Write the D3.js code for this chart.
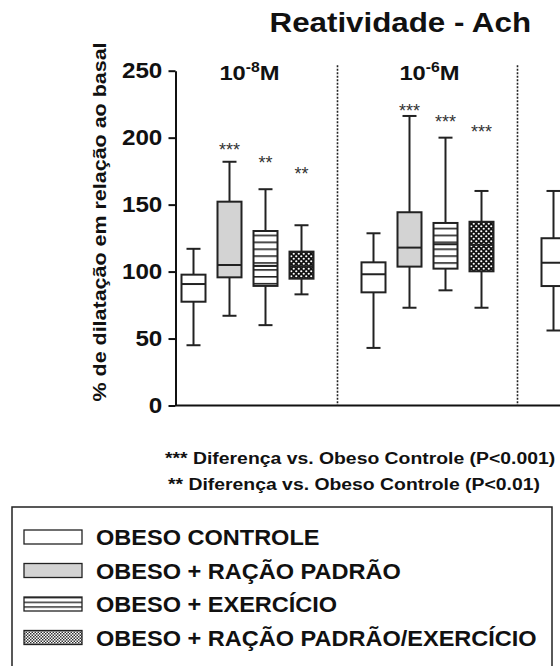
<!DOCTYPE html>
<meta charset="utf-8">
<script src="https://d3js.org/d3.v7.min.js"></script>
<style>
  body { margin: 0; background: #fff; }
  text { font-family: Arial, "Liberation Sans", sans-serif; fill: #111; }
  .tick text { font-size: 22px; font-weight: bold; }
</style>
<div id="chart"></div>
<script>
// concentrations (exponent of 10); the third panel is cut off at the right edge
var panelLabels = ["-8", "-6"];
var groups = ["OBESO CONTROLE", "OBESO + RAÇÃO PADRÃO", "OBESO + EXERCÍCIO", "OBESO + RAÇÃO PADRÃO/EXERCÍCIO"];
var fills = ["white", "gray", "stripe", "check"];

// box plot values per panel (only the first box of panel 3 shows)
var whiskerLow  = [[45, 67, 60, 83],          [43, 73, 86, 73],            [56]];
var q1          = [[77.5, 95.7, 89.3, 94.7],  [84.5, 103.7, 102.2, 100.2], [89.2]];
var median      = [[90.7, 104.9, 104.2, 104], [98, 117.9, 120.4, 120],     [106.6]];
var q3          = [[97.7, 152.2, 130.3, 114.9],[106.9, 144.3, 136.3, 137.2],[124.9]];
var whiskerHigh = [[117, 182, 161.5, 134.6],  [128.6, 216.2, 200, 160.2],  [160.2]];
var stars       = [["", "***", "**", "**"],   ["", "***", "***", "***"],   [""]];
var starPos     = [[0, 194, 184, 175.5],      [0, 223, 215, 207.5],        [0]];

var yTicks = [0, 50, 100, 150, 200, 250];
var notes = ["*** Diferença vs. Obeso Controle (P<0.001)", "** Diferença vs. Obeso Controle (P<0.01)"];

var W = 560, H = 666;
var svg = d3.select("#chart").append("svg").attr("width", W).attr("height", H);

// the original figure is a bit stretched sideways, so text gets a horizontal scale
function label(x, y, str, size, sx, anchor, rot) {
  return svg.append("text")
    .attr("transform", "translate(" + x + "," + y + ")" + (rot ? " rotate(" + rot + ")" : "") + " scale(" + sx + ",1)")
    .attr("text-anchor", anchor || "start")
    .style("font-size", size + "px").style("font-weight", "bold")
    .text(str);
}

var defs = svg.append("defs");
var st = defs.append("pattern").attr("id", "stripe").attr("patternUnits", "userSpaceOnUse")
  .attr("width", 10).attr("height", 6.9);
st.append("rect").attr("width", 10).attr("height", 6.9).attr("fill", "white");
st.append("rect").attr("y", 0).attr("width", 10).attr("height", 1.6).attr("fill", "#222");

var st2 = defs.append("pattern").attr("id", "stripeSmall").attr("patternUnits", "userSpaceOnUse")
  .attr("width", 10).attr("height", 4.7);
st2.append("rect").attr("width", 10).attr("height", 4.7).attr("fill", "white");
st2.append("rect").attr("y", 0).attr("width", 10).attr("height", 1.4).attr("fill", "#222");

var ck = defs.append("pattern").attr("id", "check").attr("patternUnits", "userSpaceOnUse")
  .attr("width", 5).attr("height", 5);
ck.append("rect").attr("width", 5).attr("height", 5).attr("fill", "#111");
ck.append("circle").attr("cx", 1.25).attr("cy", 1.25).attr("r", 1.1).attr("fill", "white");
ck.append("circle").attr("cx", 3.75).attr("cy", 3.75).attr("r", 1.1).attr("fill", "white");

var ck2 = defs.append("pattern").attr("id", "checkSmall").attr("patternUnits", "userSpaceOnUse")
  .attr("width", 3).attr("height", 3);
ck2.append("rect").attr("width", 3).attr("height", 3).attr("fill", "white");
ck2.append("rect").attr("width", 1.5).attr("height", 1.5).attr("fill", "#333");
ck2.append("rect").attr("x", 1.5).attr("y", 1.5).attr("width", 1.5).attr("height", 1.5).attr("fill", "#333");

function fillOf(k, small) {
  if (k === "white") return "white";
  if (k === "gray") return "#d3d3d3";
  if (k === "stripe") return small ? "url(#stripeSmall)" : "url(#stripe)";
  return small ? "url(#checkSmall)" : "url(#check)";
}

// each box sits in a slot; panels are separated by one empty slot
var x = d3.scaleLinear().domain([-0.5, 13.5]).range([175.5, 175.5 + 14 * 36]);
var y = d3.scaleLinear().domain([0, 250]).range([405.5, 70.7]);
var boxW = 24, capW = 14;

// title
label(531, 32, "Reatividade - Ach", 27, 1.16, "end");

// y axis
var yAxis = svg.append("g").attr("transform", "translate(" + x(-0.5) + ",0)")
  .call(d3.axisLeft(y).tickValues(yTicks).tickSize(7).tickSizeOuter(0).tickPadding(5));
yAxis.selectAll("path, line").attr("stroke", "#111").attr("stroke-width", 2);
yAxis.selectAll(".tick text").attr("transform", "scale(1.1,1)").attr("fill", "#111");

// x axis line
svg.append("line").attr("x1", x(-0.5)).attr("x2", W + 10).attr("y1", y(0)).attr("y2", y(0))
  .attr("stroke", "#111").attr("stroke-width", 2);

// y label
label(106, 222, "% de dilatação em relação ao basal", 19, 1.13, "middle", -90);

// panel separators and labels
[4, 9].forEach(function (s) {
  svg.append("line").attr("x1", x(s)).attr("x2", x(s)).attr("y1", y(254)).attr("y2", y(0))
    .attr("stroke", "#222").attr("stroke-width", 1.6).attr("stroke-dasharray", "2,1.5");
});
panelLabels.forEach(function (p, i) {
  var t = label(x(i * 5 + 1.5) + 2, 80, "", 21, 1.13, "middle");
  t.append("tspan").text("10");
  t.append("tspan").attr("dy", -8).style("font-size", "14px").text(p);
  t.append("tspan").attr("dy", 8).text("M");
});

// boxes
q1.forEach(function (panel, i) {
  panel.forEach(function (v, g) {
    var cx = x(i * 5 + g);
    var gr = svg.append("g").attr("stroke", "#222").attr("stroke-width", 2);
    gr.append("line").attr("x1", cx).attr("x2", cx).attr("y1", y(whiskerHigh[i][g])).attr("y2", y(q3[i][g]));
    gr.append("line").attr("x1", cx).attr("x2", cx).attr("y1", y(q1[i][g])).attr("y2", y(whiskerLow[i][g]));
    gr.append("line").attr("x1", cx - capW / 2).attr("x2", cx + capW / 2)
      .attr("y1", y(whiskerHigh[i][g])).attr("y2", y(whiskerHigh[i][g]));
    gr.append("line").attr("x1", cx - capW / 2).attr("x2", cx + capW / 2)
      .attr("y1", y(whiskerLow[i][g])).attr("y2", y(whiskerLow[i][g]));
    gr.append("rect").attr("x", cx - boxW / 2).attr("width", boxW)
      .attr("y", y(q3[i][g])).attr("height", y(q1[i][g]) - y(q3[i][g]))
      .attr("fill", fillOf(fills[g]));
    gr.append("line").attr("x1", cx - boxW / 2).attr("x2", cx + boxW / 2)
      .attr("y1", y(median[i][g])).attr("y2", y(median[i][g]));
    if (stars[i][g]) {
      svg.append("text").attr("x", cx).attr("y", y(starPos[i][g]) + 10)
        .attr("text-anchor", "middle").style("font-size", "18px").style("fill", "#333")
        .text(stars[i][g]);
    }
  });
});

// notes
notes.forEach(function (n, i) {
  label(165 + i * 3, 464 + i * 26, n, 17, 1.14, "start");
});

// legend
svg.append("rect").attr("x", 12).attr("y", 507).attr("width", 540).attr("height", 220)
  .attr("fill", "none").attr("stroke", "#222").attr("stroke-width", 1.5);
groups.forEach(function (gname, g) {
  var cy = 537 + g * 33.5;
  svg.append("rect").attr("x", 24).attr("y", cy - 7).attr("width", 58).attr("height", 14)
    .attr("fill", fillOf(fills[g], true)).attr("stroke", "#222").attr("stroke-width", 1.3);
  label(96, cy + 8, gname, 22, 1.07, "start");
});
</script>
